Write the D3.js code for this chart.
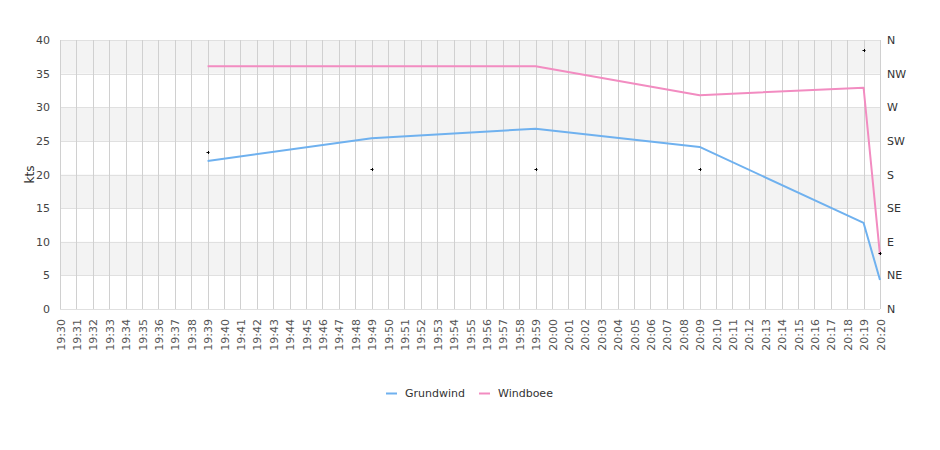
<!DOCTYPE html>
<html>
<head>
<meta charset="utf-8">
<script src="https://cdn.jsdelivr.net/npm/d3@7/dist/d3.min.js"></script>
<style>
  html, body { margin: 0; padding: 0; background: #fff; }
  svg { display: block; font-family: "DejaVu Sans", sans-serif; }
</style>
</head>
<body>
<svg id="chart" width="940" height="450"></svg>
<script>
const categories = ["19:30","19:31","19:32","19:33","19:34","19:35","19:36","19:37","19:38","19:39",
  "19:40","19:41","19:42","19:43","19:44","19:45","19:46","19:47","19:48","19:49",
  "19:50","19:51","19:52","19:53","19:54","19:55","19:56","19:57","19:58","19:59",
  "20:00","20:01","20:02","20:03","20:04","20:05","20:06","20:07","20:08","20:09",
  "20:10","20:11","20:12","20:13","20:14","20:15","20:16","20:17","20:18","20:19","20:20"];
const sampleTimes = ["19:39","19:49","19:59","20:09","20:19","20:20"];
const grundwind = [22.0, 25.4, 26.8, 24.1, 12.8, 4.3];
const windboee  = [36.1, 36.1, 36.1, 31.8, 32.9, 8.0];
const direction = [210, 187, 187, 187, 346, 75];
const yTicks = [0, 5, 10, 15, 20, 25, 30, 35, 40];
const dirTicks = [0, 45, 90, 135, 180, 225, 270, 315, 360];
const dirLabels = ["N", "NE", "E", "SE", "S", "SW", "W", "NW", "N"];
const seriesNames = ["Grundwind", "Windboee"];
const seriesColors = ["#6fb1ef", "#f28cc1"];

(function () {
const svg = d3.select("#chart");
const pl = 60, pr = 880, pt = 40, pb = 309;

const x = d3.scalePoint().domain(categories).range([pl, pr]);
const y = d3.scaleLinear().domain([0, 40]).range([pb, pt]);
const yDir = d3.scaleLinear().domain([0, 360]).range([pb, pt]);

// alternating bands
const bands = yTicks.slice(0, -1).map((v, i) => [v, yTicks[i + 1], i]).filter(d => d[2] % 2 === 1);
svg.append("g").selectAll("rect").data(bands).join("rect")
  .attr("x", pl).attr("width", pr - pl)
  .attr("y", d => y(d[1])).attr("height", d => y(d[0]) - y(d[1]))
  .attr("fill", "#f3f3f3");

// horizontal grid
svg.append("g").selectAll("line").data(yTicks).join("line")
  .attr("x1", pl).attr("x2", pr)
  .attr("y1", d => Math.round(y(d)) + 0.5).attr("y2", d => Math.round(y(d)) + 0.5)
  .attr("stroke", "#e0e0e0").attr("stroke-width", 1);

// vertical grid
svg.append("g").selectAll("line").data(categories).join("line")
  .attr("x1", d => Math.round(x(d)) + 0.5).attr("x2", d => Math.round(x(d)) + 0.5)
  .attr("y1", pt).attr("y2", pb)
  .attr("stroke", "#d0d0d0").attr("stroke-width", 1);

// left axis
const yAxis = d3.axisLeft(y).tickValues(yTicks).tickSize(0).tickPadding(0);
const gy = svg.append("g").attr("transform", `translate(${pl - 10},0)`).call(yAxis);
gy.select(".domain").remove();
gy.selectAll("text").attr("font-size", 11).attr("fill", "#444").attr("font-family", "DejaVu Sans");

// right axis
const rAxis = d3.axisRight(yDir).tickValues(dirTicks).tickSize(0).tickPadding(0)
  .tickFormat((d, i) => dirLabels[i]);
const gr = svg.append("g").attr("transform", `translate(${pr + 7},0)`).call(rAxis);
gr.select(".domain").remove();
gr.selectAll("text").attr("font-size", 11).attr("fill", "#333").attr("font-family", "DejaVu Sans");

// bottom axis
const xAxis = d3.axisBottom(x).tickSize(0).tickPadding(0);
const gx = svg.append("g").attr("transform", `translate(0,${pb})`).call(xAxis);
gx.select(".domain").remove();
gx.selectAll("text")
  .attr("font-size", 11).attr("fill", "#555").attr("font-family", "DejaVu Sans")
  .attr("text-anchor", "end").attr("dy", null).attr("y", 0)
  .attr("transform", "translate(4,10) rotate(-90)");

// y label
svg.append("text").attr("transform", `translate(34,${(pt + pb) / 2}) rotate(-90)`)
  .attr("text-anchor", "middle").attr("font-size", 12).attr("fill", "#333").text("kts");

// lines
const series = [grundwind, windboee];
const line = d3.line().x((d, i) => x(sampleTimes[i])).y(d => y(d));
series.forEach((s, k) => {
  svg.append("path").datum(s).attr("d", line)
    .attr("fill", "none").attr("stroke", seriesColors[k]).attr("stroke-width", 2)
    .attr("stroke-linejoin", "round");
});

// direction markers
const dg = svg.append("g");
direction.forEach((d, i) => {
  const cx = Math.round(x(sampleTimes[i])), cy = Math.round(yDir(d));
  dg.append("line").attr("x1", cx - 1.5).attr("x2", cx + 1.5).attr("y1", cy + 0.5).attr("y2", cy + 0.5)
    .attr("stroke", "#000").attr("stroke-width", 1);
  dg.append("line").attr("x1", cx + 0.5).attr("x2", cx + 0.5).attr("y1", cy - 1).attr("y2", cy + 2)
    .attr("stroke", "#000").attr("stroke-width", 1);
});

// legend
const legendX = [386, 479];
seriesNames.forEach((n, k) => {
  const g = svg.append("g").attr("transform", `translate(${legendX[k]},393)`);
  g.append("line").attr("x1", 0).attr("x2", 11).attr("y1", 0.5).attr("y2", 0.5)
    .attr("stroke", seriesColors[k]).attr("stroke-width", 2);
  g.append("text").attr("x", 19).attr("y", 4).attr("font-size", 11).attr("fill", "#333").text(n);
});
})();
</script>
</body>
</html>
